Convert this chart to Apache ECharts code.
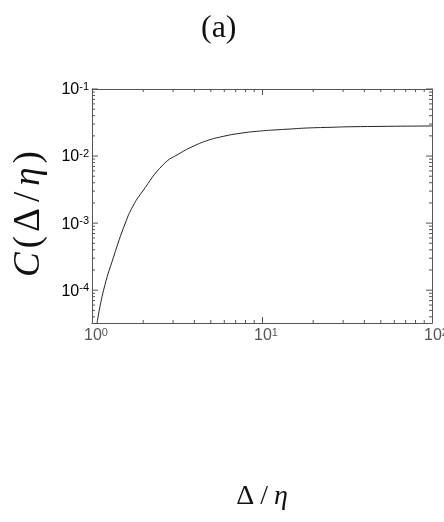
<!DOCTYPE html>
<html>
<head>
<meta charset="utf-8">
<style>
  html, body { margin: 0; padding: 0; background: #fff; }
  #chart { width: 444px; height: 522px; }
</style>
<script src="https://cdn.jsdelivr.net/npm/echarts@6/dist/echarts.min.js"></script>
</head>
<body>
<div id="chart"></div>
<script>
// Correlation C(Δ/η) against the scale ratio Δ/η
const ratio = [1.07, 1.17, 1.34, 1.57, 1.742, 1.968, 2.63, 3.29, 3.93, 4.73, 5.92, 7.42, 9.31, 11.65, 14.61, 18.32, 25.1, 34.3, 100];
const corr  = [3.2e-5, 1.0e-4, 3.14e-4, 1.0e-3, 1.795e-3, 2.90e-3, 7.5e-3, 1.10e-2, 1.396e-2, 1.692e-2, 1.968e-2, 2.183e-2, 2.337e-2, 2.443e-2, 2.529e-2, 2.618e-2, 2.682e-2, 2.74e-2, 2.81e-2];

// Axis ranges
const xRange = [1, 100];
const yRange = [3.24e-5, 0.1];

// Decade ticks on the vertical axis
const yMajorTicks = [1e-4, 1e-3, 1e-2, 1e-1];

// Minor tick positions (2..9 within each decade)
const xMinorTicks = [2, 3, 4, 5, 6, 7, 8, 9, 20, 30, 40, 50, 60, 70, 80, 90];
const yMinorTicks = [4e-5, 5e-5, 6e-5, 7e-5, 8e-5, 9e-5,
                     2e-4, 3e-4, 4e-4, 5e-4, 6e-4, 7e-4, 8e-4, 9e-4,
                     2e-3, 3e-3, 4e-3, 5e-3, 6e-3, 7e-3, 8e-3, 9e-3,
                     2e-2, 3e-2, 4e-2, 5e-2, 6e-2, 7e-2, 8e-2, 9e-2];

const frameColor = '#555';
const labelColor = '#555';
const MAJOR_LEN = 6;
const MINOR_LEN = 3;

function exponent(v) { return Math.round(Math.log10(v)); }

const labelRich = {
  b: { fontFamily: 'Liberation Sans', fontSize: 16, color: labelColor, lineHeight: 18 },
  bp: { fontFamily: 'Liberation Sans', fontSize: 16, color: labelColor, lineHeight: 18, padding: [0, 0, 0, 8] },
  s: { fontFamily: 'Liberation Sans', fontSize: 11, color: labelColor, verticalAlign: 'top', lineHeight: 12 }
};

function logAxis(extra) {
  return Object.assign({
    type: 'log',
    logBase: 10,
    axisLine: { show: true, lineStyle: { color: frameColor, width: 1 } },
    axisTick: { show: true, inside: true, length: MAJOR_LEN, lineStyle: { color: frameColor } },
    splitLine: { show: false },
    minorTick: { show: false }
  }, extra);
}

const chart = echarts.init(document.getElementById('chart'), null, { renderer: 'canvas' });

const tickStyle = { stroke: frameColor, lineWidth: 1 };

// Short inward ticks at the 2..9 positions on all four edges
function minorTickSeries(vertical) {
  return {
    type: 'custom',
    xAxisIndex: 0,
    yAxisIndex: 0,
    silent: true,
    clip: false,
    data: vertical ? xMinorTicks.map(v => [v, yRange[0]]) : yMinorTicks.map(v => [xRange[0], v]),
    renderItem: function (params, api) {
      if (vertical) {
        const b = api.coord([api.value(0), yRange[0]]);
        const t = api.coord([api.value(0), yRange[1]]);
        return { type: 'group', children: [
          { type: 'line', shape: { x1: b[0], y1: b[1], x2: b[0], y2: b[1] - MINOR_LEN }, style: tickStyle },
          { type: 'line', shape: { x1: t[0], y1: t[1], x2: t[0], y2: t[1] + MINOR_LEN }, style: tickStyle }
        ]};
      }
      const l = api.coord([xRange[0], api.value(1)]);
      const r = api.coord([xRange[1], api.value(1)]);
      return { type: 'group', children: [
        { type: 'line', shape: { x1: l[0], y1: l[1], x2: l[0] + MINOR_LEN, y2: l[1] }, style: tickStyle },
        { type: 'line', shape: { x1: r[0], y1: r[1], x2: r[0] - MINOR_LEN, y2: r[1] }, style: tickStyle }
      ]};
    }
  };
}

// Decade ticks and 10^n labels on the vertical axes
const yMajorSeries = {
  type: 'custom',
  xAxisIndex: 0,
  yAxisIndex: 0,
  silent: true,
  clip: false,
  data: yMajorTicks.map(v => [xRange[0], v]),
  renderItem: function (params, api) {
    const v = api.value(1);
    const l = api.coord([xRange[0], v]);
    const r = api.coord([xRange[1], v]);
    return { type: 'group', children: [
      { type: 'line', shape: { x1: l[0], y1: l[1], x2: l[0] + MAJOR_LEN, y2: l[1] }, style: tickStyle },
      { type: 'line', shape: { x1: r[0], y1: r[1], x2: r[0] - MAJOR_LEN, y2: r[1] }, style: tickStyle },
      { type: 'text', x: l[0] - 3, y: l[1] + 1, style: {
          text: '{b|10}{s|' + exponent(v) + '}',
          rich: labelRich,
          align: 'right',
          verticalAlign: 'middle'
      } }
    ]};
  }
};

chart.setOption({
  animation: false,
  backgroundColor: '#fff',
  title: {
    text: '(a)',
    left: 196,
    top: 8,
    textStyle: { fontFamily: 'Liberation Serif', fontSize: 32, fontWeight: 'normal', color: '#111' }
  },
  grid: { left: 92, right: 12, top: 89, bottom: 199, containLabel: false, outerBoundsMode: 'none' },
  xAxis: [
    logAxis({
      position: 'bottom', min: xRange[0], max: xRange[1], interval: 1,
      name: '{n|Δ}{m|/}{i|η}',
      nameLocation: 'middle',
      nameGap: 160,
      nameTextStyle: { padding: [0, 0, 0, 0], rich: {
        n: { fontFamily: 'Liberation Serif', fontSize: 28, color: '#111' },
        m: { fontFamily: 'Liberation Serif', fontSize: 28, color: '#111', padding: [0, 6, 0, 6] },
        i: { fontFamily: 'Liberation Serif', fontStyle: 'italic', fontSize: 28, color: '#111' }
      } },
      axisLabel: { margin: 4, formatter: v => '{bp|10}{s|' + exponent(v) + '}', rich: labelRich }
    }),
    logAxis({
      position: 'top', min: xRange[0], max: xRange[1], interval: 1,
      axisLabel: { show: false }
    })
  ],
  yAxis: [
    logAxis({
      position: 'left', min: yRange[0], max: yRange[1],
      axisTick: { show: false },
      axisLabel: { show: false },
      name: '{i|C}{n|(}{n|Δ}{m|/}{i|η}{n|)}',
      nameLocation: 'middle',
      nameRotate: 90,
      nameGap: 44,
      nameTextStyle: { padding: [0, 16, 0, 0], rich: {
        n: { fontFamily: 'Liberation Serif', fontSize: 37, color: '#111', padding: [0, 2, 0, 2] },
        m: { fontFamily: 'Liberation Serif', fontSize: 37, color: '#111', padding: [0, 4, 0, 4] },
        i: { fontFamily: 'Liberation Serif', fontStyle: 'italic', fontSize: 37, color: '#111', padding: [0, 2, 0, 2] }
      } }
    }),
    logAxis({
      position: 'right', min: yRange[0], max: yRange[1],
      axisTick: { show: false },
      axisLabel: { show: false }
    })
  ],
  series: [
    {
      type: 'line',
      xAxisIndex: 0,
      yAxisIndex: 0,
      data: ratio.map((x, i) => [x, corr[i]]),
      smooth: 0.5,
      showSymbol: false,
      lineStyle: { color: '#222', width: 1 },
      clip: true
    },
    minorTickSeries(true),
    minorTickSeries(false),
    yMajorSeries
  ]
});
</script>
</body>
</html>
